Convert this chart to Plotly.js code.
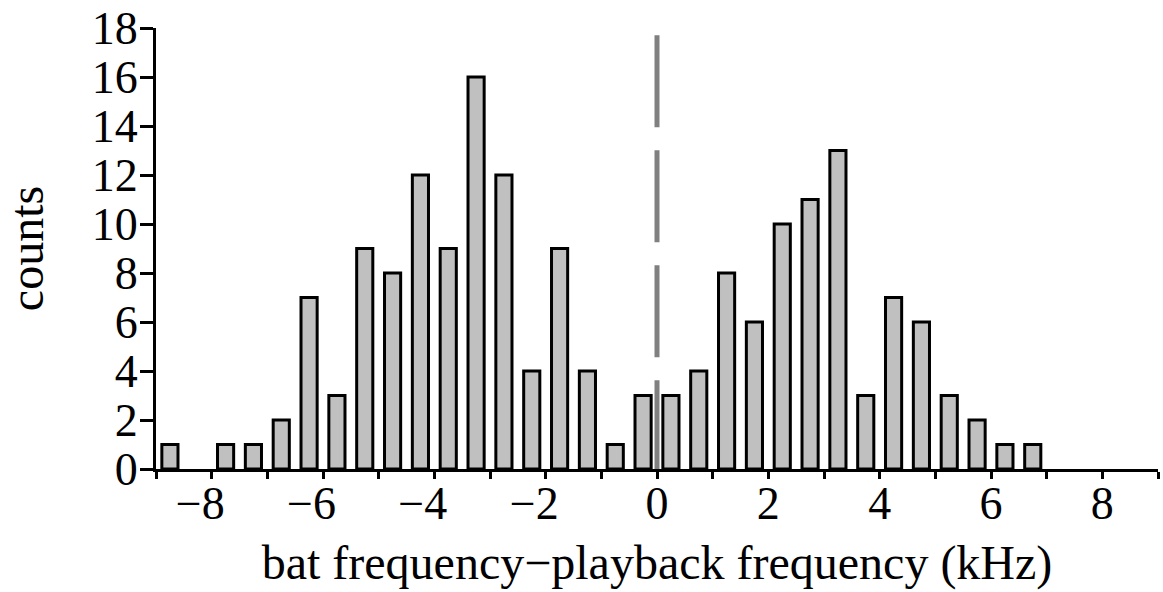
<!DOCTYPE html>
<html>
<head>
<meta charset="utf-8">
<script src="https://cdn.plot.ly/plotly-3.0.1.min.js"></script>
<style>
  html, body { margin: 0; padding: 0; background: #ffffff; }
  #chart { width: 1163px; height: 592px; }
</style>
</head>
<body>
<div id="chart"></div>
<script>
// Bin centres (kHz) and counts (empty bins omitted)
const binCenters = [-8.75, -7.75, -7.25, -6.75, -6.25, -5.75, -5.25, -4.75, -4.25,
                    -3.75, -3.25, -2.75, -2.25, -1.75, -1.25, -0.75, -0.25, 0.25, 0.75,
                    1.25, 1.75, 2.25, 2.75, 3.25, 3.75, 4.25, 4.75, 5.25, 5.75,
                    6.25, 6.75];
const counts = [1, 1, 1, 2, 7, 3, 9, 8, 12,
                9, 16, 12, 4, 9, 4, 1, 3, 3, 4,
                8, 6, 10, 11, 13, 3, 7, 6, 3, 2,
                1, 1];

// Axis ticks
const xTickVals = [-9, -8, -7, -6, -5, -4, -3, -2, -1, 0, 1, 2, 3, 4, 5, 6, 7, 8, 9];
const xTickLabels = ['', '\u22128', '', '\u22126', '', '\u22124', '', '\u22122', '', '0',
                     '', '2', '', '4', '', '6', '', '8', ''];
const yTickVals = [0, 2, 4, 6, 8, 10, 12, 14, 16, 18];
const yTickLabels = ['0', '2', '4', '6', '8', '10', '12', '14', '16', '18'];

const xTitle = 'bat frequency\u2212playback frequency (kHz)';
const yTitle = 'counts';

// negative labels: pad right so the digit (not the minus) sits on the tick
const xTickText = xTickLabels.map(t => t.startsWith('\u2212') ? t + '\u2002' : t);

const FONT = 'Liberation Serif, Times New Roman, serif';

const trace = {
  type: 'bar',
  x: binCenters,
  y: counts,
  width: 0.29,
  marker: { color: '#c0c0c0', line: { color: '#000000', width: 3 } },
  hoverinfo: 'x+y'
};

const layout = {
  width: 1163,
  height: 592,
  margin: { l: 156, r: 5, t: 28, b: 123, pad: 0 },
  paper_bgcolor: '#ffffff',
  plot_bgcolor: '#ffffff',
  showlegend: false,
  font: { family: FONT, size: 46, color: '#000000' },
  xaxis: {
    range: [-9, 9],
    tickmode: 'array',
    tickvals: xTickVals,
    ticktext: xTickText,
    ticks: 'outside',
    ticklen: 7,
    tickwidth: 3,
    tickcolor: '#000000',
    ticklabelstandoff: -15,
    showline: true,
    linewidth: 3,
    linecolor: '#000000',
    showgrid: false,
    zeroline: false,
    tickfont: { family: FONT, size: 46, color: '#000000' },
    title: { text: xTitle, font: { family: FONT, size: 48, color: '#000000' }, standoff: 18 }
  },
  yaxis: {
    range: [0, 18],
    tickmode: 'array',
    tickvals: yTickVals,
    ticktext: yTickLabels,
    ticks: 'outside',
    ticklen: 13,
    tickwidth: 3,
    tickcolor: '#000000',
    ticklabelstandoff: -7,
    showline: true,
    linewidth: 3,
    linecolor: '#000000',
    showgrid: false,
    zeroline: false,
    tickfont: { family: FONT, size: 46, color: '#000000' },
    title: { text: yTitle, font: { family: FONT, size: 48, color: '#000000' }, standoff: 34 }
  },
  shapes: [{
    type: 'line',
    xref: 'x', yref: 'y',
    x0: 0, x1: 0, y0: 17.7, y1: 0,
    layer: 'above',
    line: { color: '#808080', width: 5, dash: '92px,23px' }
  }]
};

Plotly.newPlot('chart', [trace], layout, { staticPlot: true, displayModeBar: false });
</script>
</body>
</html>
